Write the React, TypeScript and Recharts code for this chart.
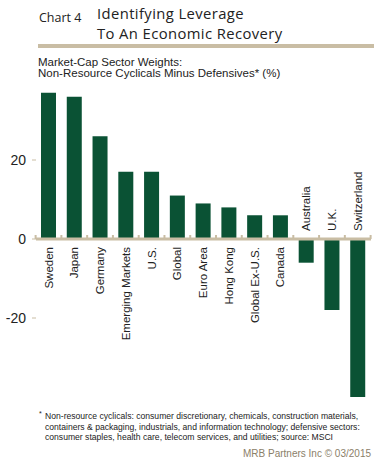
// Chart 4: market-cap sector weights, non-resource cyclicals minus defensives

import React from 'react'
import { BarChart, Bar, XAxis, YAxis, ReferenceLine, LabelList } from 'recharts'

const countries = [
  'Sweden',
  'Japan',
  'Germany',
  'Emerging Markets',
  'U.S.',
  'Global',
  'Euro Area',
  'Hong Kong',
  'Global Ex-U.S.',
  'Canada',
  'Australia',
  'U.K.',
  'Switzerland',
]
const weights = [37, 36, 26, 17, 17, 11, 9, 8, 6, 6, -6, -18, -40]
const yTicks = [-20, 0, 20]

const data = countries.map((name, i) => ({ name, value: weights[i] }))

const GREEN = '#0a5234'
const TAN = '#c9bda4'
const INK = '#222222'
const SANS = 'Arial, "Liberation Sans", sans-serif'
const TITLE_FONT = '"Open Sans", sans-serif'

const CHART_W = 374
const MARGIN = { top: 81, right: 3, bottom: 65, left: 0 }
const Y_AXIS_W = 36
const BAND = (CHART_W - MARGIN.left - MARGIN.right - Y_AXIS_W) / countries.length

/** Category name hung below the zero line for positive bars, above it for negative ones. */
const CountryLabel = (props: any) => {
  const { x, y, width, height, index } = props
  const cx = x + width / 2
  const zero = y + height
  const negative = weights[index] < 0
  const ty = negative ? zero - 8 : zero + 8
  const left = cx - BAND / 2
  return (
    <g>
      <line x1={left} x2={left} y1={zero - 4} y2={zero} stroke={TAN} strokeWidth={2} />
      {index === countries.length - 1 && (
        <line x1={left + BAND} x2={left + BAND} y1={zero - 4} y2={zero} stroke={TAN} strokeWidth={2} />
      )}
      <text
        x={cx}
        y={ty}
        transform={`rotate(-90 ${cx} ${ty})`}
        textAnchor={negative ? 'start' : 'end'}
        dominantBaseline="central"
        fontSize={11.5}
        fontFamily={SANS}
        fill={INK}
      >
        {countries[index]}
      </text>
    </g>
  )
}

const titleStyle: React.CSSProperties = {
  position: 'absolute',
  left: 97,
  fontFamily: TITLE_FONT,
  fontSize: 14.8,
  lineHeight: '18px',
  letterSpacing: 0.4,
  color: INK,
  whiteSpace: 'nowrap',
}

export default function App() {
  return (
    <div style={{ position: 'absolute', left: 0, top: 0, width: 374, height: 462, background: '#fff', fontFamily: SANS }}>
      <div style={{ position: 'absolute', left: 39, top: 9, fontFamily: TITLE_FONT, fontSize: 12.5, color: INK }}>
        Chart 4
      </div>
      <div style={{ ...titleStyle, top: 4 }}>Identifying Leverage</div>
      <div style={{ ...titleStyle, top: 24 }}>To An Economic Recovery</div>
      <div style={{ position: 'absolute', left: 38, top: 44, width: 336, height: 4, background: TAN }} />
      <div style={{ position: 'absolute', left: 38, top: 57, fontSize: 11.5, lineHeight: '11px', color: INK, whiteSpace: 'nowrap' }}>
        Market-Cap Sector Weights:
        <br />
        Non-Resource Cyclicals Minus Defensives* (%)
      </div>

      <div style={{ position: 'absolute', left: 0, top: 0 }}>
        <BarChart width={CHART_W} height={462} data={data} margin={MARGIN}>
          <XAxis dataKey="name" hide />
          <YAxis
            width={Y_AXIS_W}
            domain={[-40, 40]}
            ticks={yTicks}
            axisLine={false}
            tickLine={{ stroke: TAN }}
            tickSize={4}
            tickMargin={6}
            tick={{ fill: INK, fontSize: 14, fontFamily: SANS }}
          />
          <Bar dataKey="value" fill={GREEN} barSize={15} isAnimationActive={false}>
            <LabelList dataKey="name" content={CountryLabel} />
          </Bar>
          <ReferenceLine y={0} stroke={TAN} strokeWidth={3} />
        </BarChart>
      </div>

      <div style={{ position: 'absolute', left: 39, top: 411, fontSize: 8.6, lineHeight: '10.5px', color: INK, whiteSpace: 'nowrap' }}>
        <span style={{ position: 'absolute', left: 0, top: -2, fontSize: 7 }}>*</span>
        <div style={{ marginLeft: 6 }}>
          Non-resource cyclicals: consumer discretionary, chemicals, construction materials,
          <br />
          containers &amp; packaging, industrials, and information technology; defensive sectors:
          <br />
          consumer staples, health care, telecom services, and utilities; source: MSCI
        </div>
      </div>
      <div style={{ position: 'absolute', right: 3, top: 448, fontSize: 10, color: '#8b8069', whiteSpace: 'nowrap' }}>
        MRB Partners Inc © 03/2015
      </div>
    </div>
  )
}
